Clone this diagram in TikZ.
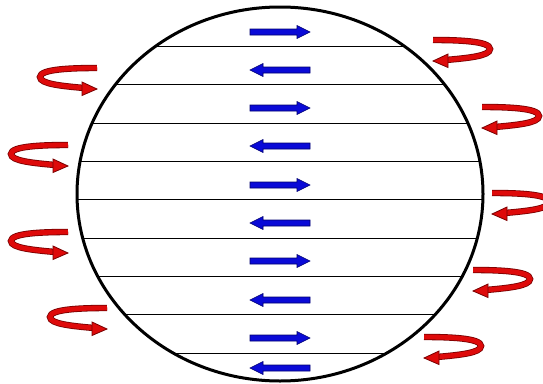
\documentclass[tikz,border=0pt]{standalone}
\usetikzlibrary{arrows.meta}

\definecolor{curlred}{RGB}{222,10,10}
\definecolor{curledge}{RGB}{120,0,0}
\definecolor{flowblue}{RGB}{10,10,215}
\definecolor{flowedge}{RGB}{0,0,110}

\tikzset{
  rim/.style={line width=3pt, black},
  layer/.style={line width=0.8pt, black},
  flow/.pic={
    \filldraw[fill=flowblue, draw=flowedge, line width=0.6pt]
      (-30,-3) -- (17,-3) -- (17,-6.5) -- (30,0) -- (17,6.5) -- (17,3) -- (-30,3) -- cycle;
  },
  curl/.pic={
    \draw[curlred, line width=4.8pt, preaction={draw=curledge, line width=6.4pt}]
      (0,0) .. controls (-25,0) and (-57,1) .. (-57,9)
            .. controls (-57,16) and (-35,18) .. (-13,20);
    \filldraw[fill=curlred, draw=curledge, line width=0.8pt]
      (-15,14) -- (0,21) -- (-15,27.5) -- cycle;
  }
}

\begin{document}
\begin{tikzpicture}[x=1pt,y=-1pt]
  \useasboundingbox (0,0) rectangle (543,383);

  % layers cut by the rim
  \begin{scope}
    \clip (280,194) ellipse [x radius=203, y radius=187];
    \foreach \y in {46,84.5,123,161,199.5,238,276,314,353}
      \draw[layer] (0,\y) -- (543,\y);
  \end{scope}
  \draw[rim] (280,194) ellipse [x radius=203, y radius=187];

  % flow in each layer
  \foreach \y in {32,108,185,261,338}
    \pic (fr\y) at (280,\y) {flow};
  \foreach \y in {70,146,223,300,368}
    \pic[xscale=-1] (fl\y) at (280,\y) {flow};

  % curls on the left
  \foreach \x/\y in {97/68, 68/145, 68/232, 107/308}
    \pic (cl\y) at (\x,\y) {curl};
  % curls on the right
  \foreach \x/\y in {433/40, 482/107, 492/193, 473/270, 424/337}
    \pic[xscale=-1] (cr\y) at (\x,\y) {curl};
\end{tikzpicture}
\end{document}
